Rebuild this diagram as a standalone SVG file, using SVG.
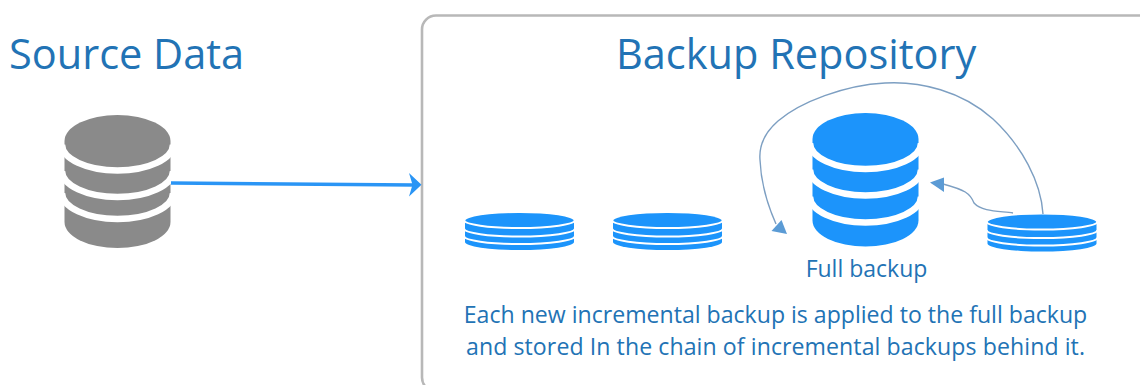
<svg xmlns="http://www.w3.org/2000/svg" width="1140" height="385" viewBox="0 0 1140 385">
<defs>
<style>
text{font-family:"Open Sans","Noto Sans",sans-serif;fill:#2273b5}
.h{font-size:41.500px}
.b{font-size:23.100px}
.c{font-size:23px}
.gap{fill:none;stroke:#fff}
.cv{fill:none;stroke:#7d9fc2;stroke-width:1.400}
.ah{fill:#5b9bd5}
</style>
<filter id="soft" x="-5%" y="-10%" width="110%" height="120%"><feGaussianBlur stdDeviation="0.700"/></filter>
</defs>
<rect width="1140" height="385" fill="#fff"/>
<g id="repository-frame"><rect x="422" y="15.500" width="780" height="376" rx="14" fill="#fff" stroke="#b8b8b8" stroke-width="2.600"/></g>
<g id="source-title"><text class="h" x="9" y="69">Source Data</text></g>
<g id="repository-title"><text class="h" x="616" y="69">Backup Repository</text></g>
<g id="source-db">
<g filter="url(#soft)">
<path d="M64.500 141A53 26 0 0 1 170.500 141V222A53 26 0 0 1 64.500 222Z" fill="#8a8a8a"/>
<path class="gap" stroke-width="6.500" d="M62 144.500A55.500 26 0 0 0 173 144.500M62 171A55.500 26 0 0 0 173 171M62 193A55.500 26 0 0 0 173 193"/>
</g>
</g>
<g id="full-backup-db">
<g filter="url(#soft)">
<path d="M812.500 139A53 26 0 0 1 918.500 139V220.500A53 26 0 0 1 812.500 220.500Z" fill="#1a94fb"/>
<path class="gap" stroke-width="6.500" d="M810 143A55.500 26 0 0 0 921 143M810 169.500A55.500 26 0 0 0 921 169.500M810 196.500A55.500 26 0 0 0 921 196.500"/>
</g>
<text class="c" x="866.500" y="277" text-anchor="middle">Full backup</text>
</g>
<g id="increment-1">
<g filter="url(#soft)">
<path d="M465 221A54.500 8 0 0 1 574 221V242A54.500 8 0 0 1 465 242Z" fill="#1a94fb"/>
<path class="gap" stroke-width="2" d="M464 220A55 8 0 0 0 575 220M464 228.500A55 8 0 0 0 575 228.500M464 236A55 8 0 0 0 575 236"/>
</g>
</g>
<g id="increment-2">
<g filter="url(#soft)">
<path d="M613 221A54.500 8 0 0 1 722 221V242A54.500 8 0 0 1 613 242Z" fill="#1a94fb"/>
<path class="gap" stroke-width="2" d="M612 220A55 8 0 0 0 723 220M612 228.500A55 8 0 0 0 723 228.500M612 236A55 8 0 0 0 723 236"/>
</g>
</g>
<g id="increment-3">
<g filter="url(#soft)">
<path d="M987.500 222.500A54.500 8 0 0 1 1096.500 222.500V243.500A54.500 8 0 0 1 987.500 243.500Z" fill="#1a94fb"/>
<path class="gap" stroke-width="2" d="M986.500 221.500A55 8 0 0 0 1097.500 221.500M986.500 230A55 8 0 0 0 1097.500 230M986.500 237.500A55 8 0 0 0 1097.500 237.500"/>
</g>
</g>
<g id="caption">
<text class="b" x="775.500" y="323" text-anchor="middle">Each new incremental backup is applied to the full backup</text>
<text class="b" x="775.500" y="355" text-anchor="middle" textLength="619">and stored In the chain of incremental backups behind it.</text>
</g>
<g id="connectors">
<path d="M171 183L414 185" fill="none" stroke="#2a95f5" stroke-width="3.500"/>
<path d="M421.500 184.800L409 173L412.500 184.800L409 196.500Z" fill="#2a95f5"/>
<path class="cv" d="M1043 214C1041 182 1022 146 993 119C962 91 920 81 885 83C845 85 800 102 778 121C763 134 759 148 760 160C761 184 768 206 776 224"/>
<path class="ah" d="M787 234L771.500 231L781.500 220Z"/>
<path class="cv" d="M1013 213C1000 211 982 212 974 203C970 193 965 190 943 184"/>
<path class="ah" d="M930 182.500L944 177.500L944 192Z"/>
</g>
</svg>
